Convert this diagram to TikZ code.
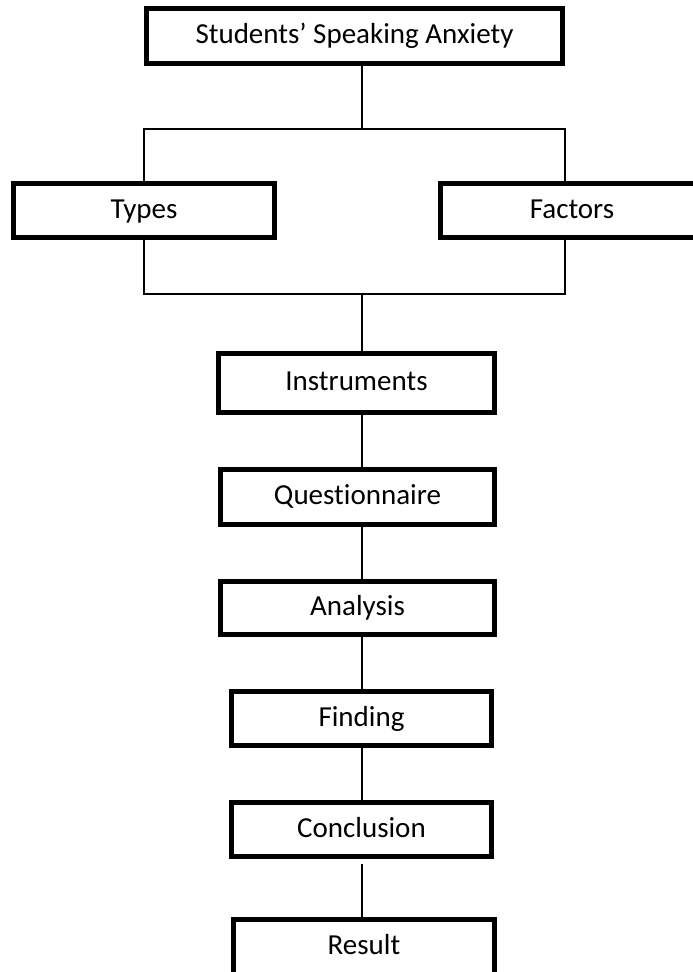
\documentclass[tikz,border=0pt]{standalone}
\usepackage{fontspec}
\setmainfont{Carlito}[Ligatures=NoCommon]
\begin{document}
\begin{tikzpicture}[x=1pt,y=-1pt,
  box/.style={draw,line width=4.8pt,inner sep=0pt,minimum width=#1,minimum height=54.5pt,
    text height=19pt,text depth=4pt,font=\fontsize{29}{35}\selectfont},
  box/.default=261.5pt,
  link/.style={line width=1.4pt}]
\useasboundingbox (0,0) rectangle (693,972);

\node[box=416.5pt,minimum height=55.5pt] (anxiety) at (354.5,36) {Students’ Speaking Anxiety};

\node[box] (types)   at (144,210.5) {Types};
\node[box=263.5pt] (factors) at (572,210.5) {Factors};

\node[box=276.5pt,minimum height=59.5pt] (instruments)   at (356.5,383) {Instruments};
\node[box=274.5pt]                       (questionnaire) at (357.5,497) {Questionnaire};
\node[box=274.5pt,minimum height=53.5pt] (analysis)      at (357.5,608) {Analysis};
\node[box=260.5pt]                       (finding)       at (361.5,718.5) {Finding};
\node[box=260.5pt]                       (conclusion)    at (361.5,829.5) {Conclusion};
\node[box,minimum height=55.5pt]         (result)        at (364,947) {Result};

\coordinate (split) at (362,129);
\coordinate (join)  at (362,294);

\draw[link] (anxiety.south -| split) -- (split);
\draw[link] (types.north -| anxiety.west) |- (split) -| (factors.north -| anxiety.east);
\draw[link] (types.south -| anxiety.west) |- (join) -| (factors.south -| anxiety.east);
\draw[link] (join) -- (instruments.north -| join);

\draw[link] (instruments.south -| join)   -- (questionnaire.north -| join);
\draw[link] (questionnaire.south -| join) -- (analysis.north -| join);
\draw[link] (analysis.south -| join)      -- (finding.north -| join);
\draw[link] (finding.south -| join)       -- (conclusion.north -| join);
\draw[link,shorten <=5pt] (conclusion.south -| join) -- (result.north -| join);
\end{tikzpicture}
\end{document}
